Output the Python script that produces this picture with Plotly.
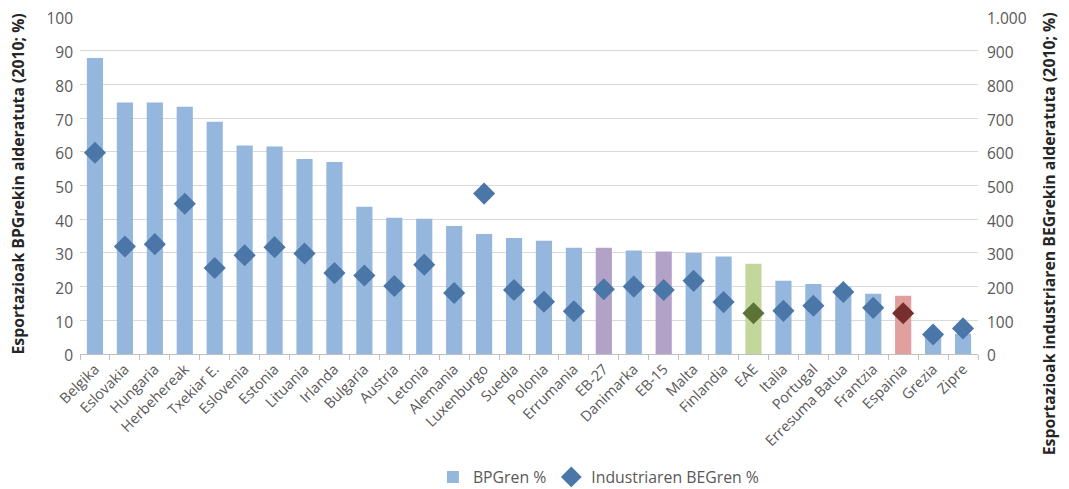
import plotly.graph_objects as go

categories = ["Belgika", "Eslovakia", "Hungaria", "Herbehereak", "Txekiar E.", "Eslovenia",
              "Estonia", "Lituania", "Irlanda", "Bulgaria", "Austria", "Letonia", "Alemania",
              "Luxenburgo", "Suedia", "Polonia", "Errumania", "EB-27", "Danimarka", "EB-15",
              "Malta", "Finlandia", "EAE", "Italia", "Portugal", "Erresuma Batua", "Frantzia",
              "Espainia", "Grezia", "Zipre"]
bpg_pct = [87.8, 74.6, 74.6, 73.4, 68.9, 61.9, 61.6, 57.9, 57.0, 43.7, 40.4, 40.1, 38.0,
           35.6, 34.4, 33.6, 31.5, 31.5, 30.7, 30.4, 30.0, 28.9, 26.8, 21.7, 20.8, 19.8,
           17.9, 17.3, 6.5, 6.0]
beg_pct = [597, 319, 326, 446, 255, 293, 317, 298, 240, 233, 202, 265, 181,
           476, 190, 155, 127, 192, 200, 190, 217, 154, 121, 128, 143, 184,
           137, 121, 58, 76]
left_title = "Esportazioak BPGrekin alderatuta (2010; %)"
right_title = "Esportazioak industriaren BEGrekin alderatuta (2010; %)"

bar_base = "#95B7DD"
dia_base = "#4A76A8"
bar_special = {"EB-27": "#B3A2C7", "EB-15": "#B3A2C7", "EAE": "#C3D69B", "Espainia": "#E0A09E"}
dia_special = {"EAE": "#5B7335", "Espainia": "#772E2E"}
bar_colors = [bar_special.get(c, bar_base) for c in categories]
dia_colors = [dia_special.get(c, dia_base) for c in categories]

fig = go.Figure()
fig.add_trace(go.Bar(x=categories, y=bpg_pct, name="BPGren %",
                     marker=dict(color=bar_colors, line=dict(width=0))))
fig.add_trace(go.Scatter(x=categories, y=beg_pct, name="Industriaren BEGren %", yaxis="y2",
                         mode="markers",
                         marker=dict(symbol="diamond", size=17, color=dia_colors,
                                     line=dict(width=0))))

grey = "#595959"
fig.update_layout(
    width=1061, height=481,
    margin=dict(l=72, r=91, t=9, b=135, autoexpand=False),
    paper_bgcolor="white", plot_bgcolor="white",
    bargap=0.46,
    separators=",.",
    font=dict(family="Open Sans", size=15, color=grey),
    showlegend=True,
    legend=dict(orientation="h", x=0.393, xanchor="left", y=-0.315, yanchor="top",
                font=dict(size=15.8, color=grey), itemwidth=30, tracegroupgap=0),
    xaxis=dict(range=[-0.5, len(categories) - 0.5], autorange=False,
               showline=True, linecolor="#BFBFBF", linewidth=1, ticks="outside",
               tickson="boundaries", ticklen=5, tickcolor="#BFBFBF", tickangle=-45,
               tickfont=dict(family="Open Sans", size=14.5, color=grey),
               showgrid=False, automargin=False),
    yaxis=dict(range=[0, 100], dtick=10, showgrid=True, gridcolor="#D9D9D9", gridwidth=1,
               zeroline=False, showline=False, ticks="", ticklabelstandoff=6,
               ticklabeloverflow="allow", ticklabelshift=2,
               tickfont=dict(size=15.5, color=grey), automargin=False),
    yaxis2=dict(range=[0, 1000], dtick=100, overlaying="y", side="right", showgrid=False,
                zeroline=False, showline=False, separatethousands=True,
                ticklabelstandoff=8, ticklabeloverflow="allow", ticklabelshift=2,
                tickfont=dict(size=15.5, color=grey), automargin=False),
    annotations=[
        dict(text=left_title, textangle=-90, xref="paper", yref="paper",
             x=-0.069, y=1.015, xanchor="center", yanchor="top", showarrow=False,
             font=dict(size=15.8, color="#262626", weight="bold")),
        dict(text=right_title, textangle=-90, xref="paper", yref="paper",
             x=1.080, y=1.021, xanchor="center", yanchor="top", showarrow=False,
             font=dict(size=15.8, color="#262626", weight="bold")),
    ],
)

fig.write_html("out.html")
